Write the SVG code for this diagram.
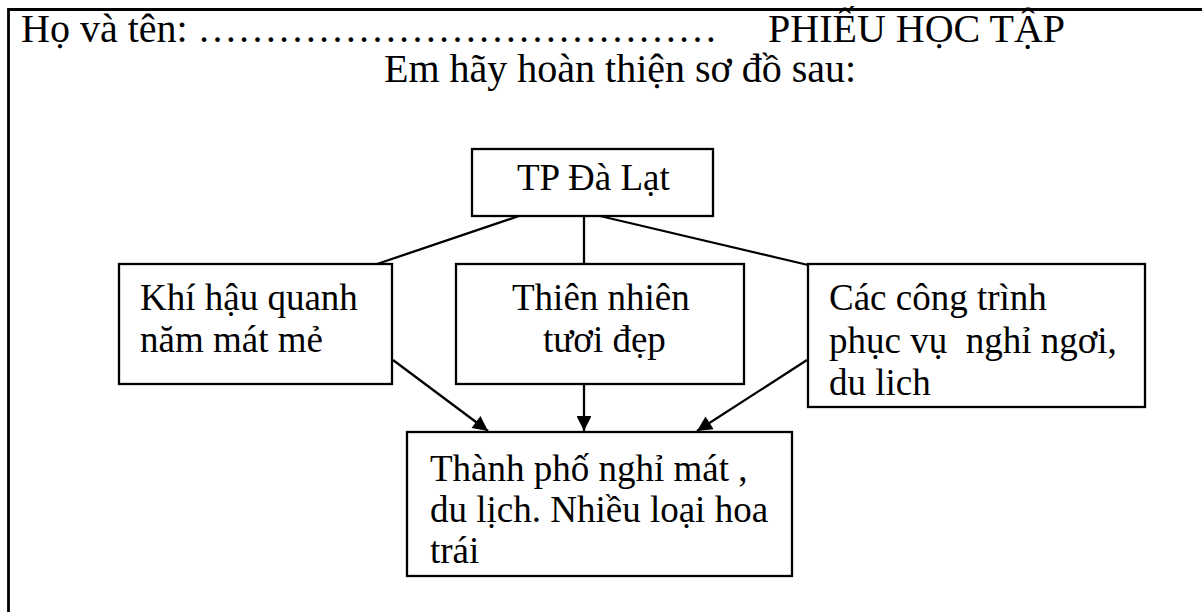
<svg xmlns="http://www.w3.org/2000/svg" width="1202" height="612" viewBox="0 0 1202 612">
  <defs>
    <marker id="arrow" viewBox="0 0 10 10" refX="10" refY="5" markerWidth="7.5" markerHeight="6.5" markerUnits="strokeWidth" orient="auto">
      <path d="M0,0 L10,5 L0,10 z" fill="#000"/>
    </marker>
    <style>
      text { font-family: "Liberation Serif", "Times New Roman", serif; font-size: 37px; fill: #000; }
      text.head { font-size: 40px; }
      .box { fill: #fff; stroke: #000; stroke-width: 2.3; }
      .frame { fill: none; stroke: #000; stroke-width: 2.8; }
      .link { fill: none; stroke: #000; stroke-width: 2.3; }
      .arrow { fill: none; stroke: #000; stroke-width: 2.3; marker-end: url(#arrow); }
    </style>
  </defs>
  <rect width="1202" height="612" fill="#fff"/>

  <!-- sheet frame (open at right and bottom) -->
  <path class="frame" d="M8.5,612 V9.5 H1202"/>

  <!-- header -->
  <g id="header">
    <text class="head" x="21" y="42">Họ và tên: …………………………………</text>
    <text class="head" x="768" y="42">PHIẾU HỌC TẬP</text>
    <text class="head" x="384" y="82">Em hãy hoàn thiện sơ đồ sau:</text>
  </g>

  <!-- connectors -->
  <g id="connectors">
    <line class="link" x1="519" y1="216" x2="377" y2="264"/>
    <line class="link" x1="584" y1="216" x2="584" y2="264"/>
    <line class="link" x1="600" y1="216" x2="808" y2="265"/>
    <line class="arrow" x1="393" y1="360" x2="488" y2="431"/>
    <line class="arrow" x1="584" y1="384" x2="584" y2="431"/>
    <line class="arrow" x1="807" y1="360" x2="697" y2="431"/>
  </g>

  <g id="node-root">
    <rect class="box" x="472" y="149" width="241" height="67"/>
    <text x="517" y="190">TP Đà Lạt</text>
  </g>

  <g id="node-climate">
    <rect class="box" x="119" y="264" width="273" height="120"/>
    <text x="140" y="310">Khí hậu quanh</text>
    <text x="140" y="352">năm mát mẻ</text>
  </g>

  <g id="node-nature">
    <rect class="box" x="456" y="264" width="288" height="120"/>
    <text x="512" y="310">Thiên nhiên</text>
    <text x="543" y="352">tươi đẹp</text>
  </g>

  <g id="node-facilities">
    <rect class="box" x="808" y="264" width="337" height="143"/>
    <text x="829" y="310">Các công trình</text>
    <text x="829" y="353" xml:space="preserve">phục vụ  nghỉ ngơi,</text>
    <text x="829" y="395">du lich</text>
  </g>

  <g id="node-result">
    <rect class="box" x="407" y="432" width="385" height="144"/>
    <text x="430" y="481">Thành phố nghỉ mát ,</text>
    <text x="430" y="522">du lịch. Nhiều loại hoa</text>
    <text x="430" y="563">trái</text>
  </g>
</svg>
